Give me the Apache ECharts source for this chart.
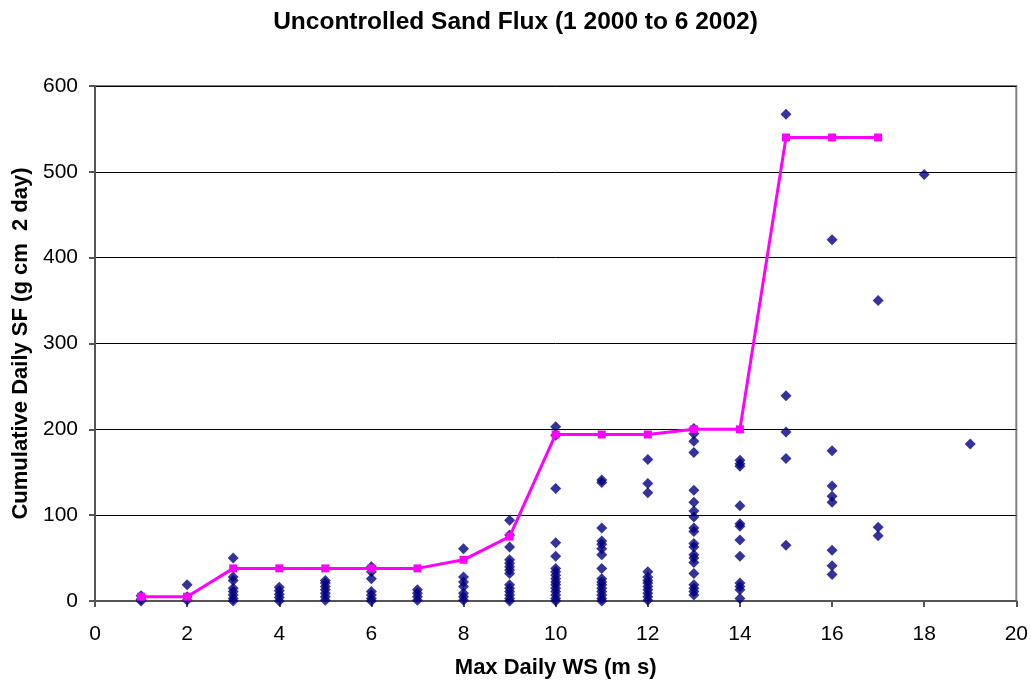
<!DOCTYPE html>
<html>
<head>
<meta charset="utf-8">
<script src="https://cdn.jsdelivr.net/npm/echarts@6/dist/echarts.min.js"></script>
<style>html,body{margin:0;padding:0;background:#fff;}#chart{width:1031px;height:687px;}</style>
</head>
<body>
<div id="chart"></div>
<script>
// Daily max wind speed (m/s) -> daily sand flux values observed
const windSpeeds = [1,2,3,4,5,6,7,8,9,10,11,12,13,14,15,16,17,18,19];
const sfByWS = [
  [6, 2, 0],
  [19, 5, 1],
  [50, 28, 24, 15, 11, 7, 3, 0],
  [16, 12, 8, 4, 0],
  [24, 21, 17, 13, 9, 5, 1],
  [40, 34, 26, 11, 7, 3, 0],
  [13, 9, 5, 1],
  [61, 28, 22, 17, 9, 5, 1],
  [94, 77, 63, 48, 44, 40, 36, 32, 19, 15, 11, 7, 3, 0],
  [203, 193, 131, 68, 52, 38, 34, 30, 26, 22, 19, 15, 11, 7, 3, 0],
  [141, 138, 85, 70, 66, 61, 54, 38, 26, 22, 19, 15, 11, 7, 3, 0],
  [165, 137, 126, 34, 28, 24, 21, 17, 13, 9, 5, 1],
  [201, 195, 186, 173, 129, 115, 105, 98, 85, 81, 67, 63, 54, 50, 45, 32, 19, 15, 11, 7],
  [164, 160, 157, 111, 90, 87, 71, 52, 21, 17, 13, 3],
  [567, 239, 197, 166, 65],
  [421, 175, 134, 122, 115, 59, 41, 31],
  [350, 86, 76],
  [497],
  [183]
];
// Cumulative daily SF line
const cumWS = [1,2,3,4,5,6,7,8,9,10,11,12,13,14,15,16,17];
const cumSF = [5,5,38,38,38,38,38,48,75,194,194,194,200,200,540,540,540];
const xTicks = [0,2,4,6,8,10,12,14,16,18,20];
const yTicks = [0,100,200,300,400,500,600];

const scatterData = [];
windSpeeds.forEach((ws, i) => sfByWS[i].forEach(v => scatterData.push([ws, v])));
const lineData = cumWS.map((ws, i) => [ws, cumSF[i]]);

const chart = echarts.init(document.getElementById('chart'));
const font = 'Arial, "Liberation Sans", sans-serif';
chart.setOption({
  animation: false,
  backgroundColor: '#fff',
  title: {
    text: 'Uncontrolled Sand Flux (1 2000 to 6 2002)',
    left: 'center', top: 5,
    textStyle: {fontFamily: font, fontWeight: 'bold', fontSize: 24.5, color: '#000'}
  },
  grid: {left: 95, right: 14, top: 86, bottom: 86, show: true, borderColor: '#808080', borderWidth: 2},
  xAxis: {
    type: 'value', min: xTicks[0], max: xTicks[xTicks.length-1], interval: 2,
    name: 'Max Daily WS (m s)', nameLocation: 'middle', nameGap: 56,
    nameTextStyle: {fontFamily: font, fontWeight: 'bold', fontSize: 22, color: '#000'},
    axisLine: {onZero: false, lineStyle: {color: '#555', width: 2}},
    axisTick: {show: true, inside: false, length: 6, lineStyle: {color: '#555', width: 2}},
    axisLabel: {fontFamily: font, fontSize: 21, color: '#000', margin: 23},
    splitLine: {show: false}
  },
  yAxis: {
    type: 'value', min: yTicks[0], max: yTicks[yTicks.length-1], interval: 100,
    name: 'Cumulative Daily SF (g cm  2 day)', nameLocation: 'middle', nameGap: 62,
    nameTextStyle: {fontFamily: font, fontWeight: 'bold', fontSize: 22, color: '#000'},
    axisLine: {show: true, lineStyle: {color: '#555', width: 2}},
    axisTick: {show: true, inside: false, length: 6, lineStyle: {color: '#555', width: 2}},
    axisLabel: {fontFamily: font, fontSize: 21, color: '#000', margin: 17},
    splitLine: {show: true, lineStyle: {color: '#000', width: 1}}
  },
  series: [
    {
      type: 'scatter', data: scatterData, symbol: 'diamond', symbolSize: 11,
      itemStyle: {color: '#000080'}, z: 2
    },
    {
      type: 'line', data: lineData, symbol: 'rect', symbolSize: 8,
      lineStyle: {color: '#FF00FF', width: 3}, itemStyle: {color: '#FF00FF'}, z: 3
    }
  ]
});
</script>
</body>
</html>
